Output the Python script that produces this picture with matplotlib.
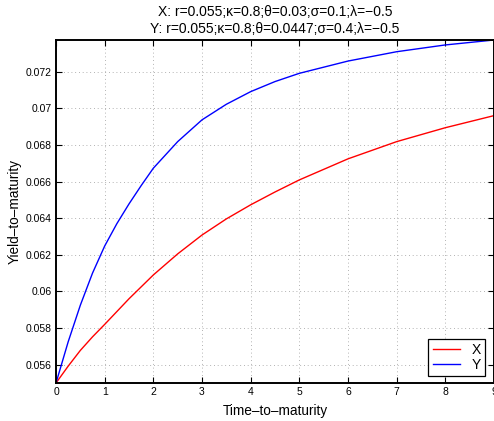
import numpy as np
import matplotlib
matplotlib.use("Agg")
import matplotlib.pyplot as plt

# valori
T_X = [0, 0.25, 0.5, 0.75, 1, 1.5, 2, 2.5, 3, 3.5, 4, 4.5, 5, 6, 7, 8, 9]
YIELD_X = [0.0550, 0.05592, 0.05678, 0.05752, 0.05820, 0.05960, 0.06090,
           0.06205, 0.06308, 0.06396, 0.06473, 0.06543, 0.06609, 0.06724,
           0.06818, 0.06894, 0.06960]
T_Y = [0, 0.25, 0.5, 0.75, 1, 1.25, 1.5, 1.75, 2, 2.5, 3, 3.5, 4, 4.5,
       5, 6, 7, 8, 9]
YIELD_Y = [0.0550, 0.05725, 0.05925, 0.06100, 0.06248, 0.06370, 0.06478,
           0.06578, 0.06673, 0.06818, 0.06937, 0.07022, 0.07091, 0.07146,
           0.07191, 0.07258, 0.07309, 0.07346, 0.07373]

TITLE = ("X: r=0.055;\u03ba=0.8;\u03b8=0.03;\u03c3=0.1;\u03bb=\u22120.5\n"
         "Y: r=0.055;\u03ba=0.8;\u03b8=0.0447;\u03c3=0.4;\u03bb=\u22120.5")
YTICKS = [0.056, 0.058, 0.060, 0.062, 0.064, 0.066, 0.068, 0.070, 0.072]
YTICKLABELS = ["0.056", "0.058", "0.06", "0.062", "0.064", "0.066",
               "0.068", "0.07", "0.072"]

plt.rcParams["font.family"] = ["Liberation Sans", "DejaVu Sans"]

fig = plt.figure(figsize=(4.94, 4.21), dpi=100)
ax = fig.add_axes([0.1134, 0.0903, 0.8866, 0.8147])

ax.plot(T_X, YIELD_X, color="red", lw=1.0, label="X")
ax.plot(T_Y, YIELD_Y, color="blue", lw=1.0, label="Y")

ax.set_xlim(0, 9)
ax.set_ylim(0.0550, max(YIELD_Y))
ax.set_xticks(range(10))
ax.set_yticks(YTICKS)
ax.set_yticklabels(YTICKLABELS)
ax.tick_params(direction="in", top=True, right=True, labelsize=7.5,
               length=4, width=0.8, pad=3)
ax.grid(True, color="#999999", linestyle=(0, (1, 3.5)), linewidth=0.6)
for s in ax.spines.values():
    s.set_linewidth(1.4)

ax.set_title(TITLE, fontsize=10, linespacing=1.3, pad=5)
ax.set_xlabel("Time\u2013to\u2013maturity", fontsize=9.8, labelpad=5)
ax.set_ylabel("Yield\u2013to\u2013maturity", fontsize=9.8, labelpad=3)

leg = ax.legend(loc="lower right", fontsize=10, fancybox=False,
                framealpha=1, edgecolor="black", handlelength=2.0,
                borderaxespad=0.5, labelspacing=0.05, borderpad=0.3,
                handletextpad=0.8, bbox_to_anchor=(0.995, 0.0))
leg.get_frame().set_linewidth(0.9)

fig.savefig("out.png", dpi=100)
